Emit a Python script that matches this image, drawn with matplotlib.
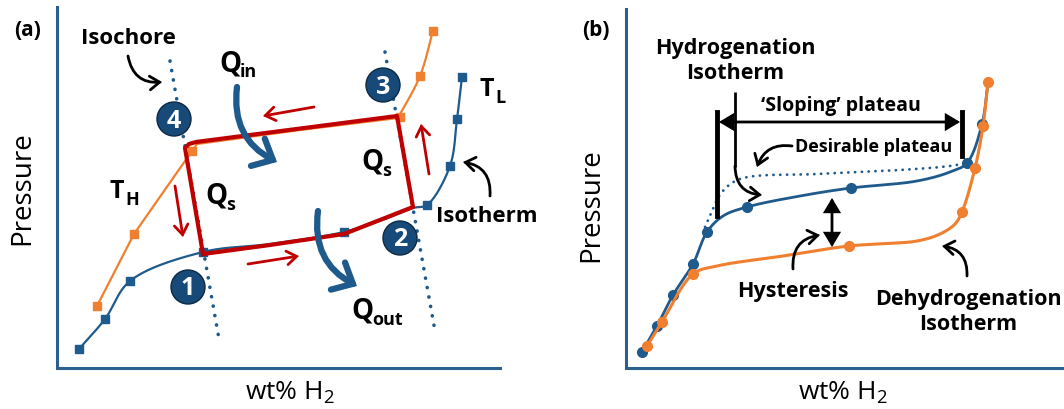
import numpy as np
import matplotlib
matplotlib.use('Agg')
import matplotlib.pyplot as plt
from matplotlib.patches import FancyArrowPatch, Circle

plt.rcParams['font.family'] = ['Open Sans', 'DejaVu Sans']
plt.rcParams['mathtext.fontset'] = 'custom'
plt.rcParams['mathtext.rm'] = 'Open Sans'

BLUE = '#1f5a8c'
ORANGE = '#f07f2f'
RED = '#c00000'
NAVY = '#174a78'

# ---- panel (a): schematic units (figure pixels) ----
tl_mx = [79, 105, 130, 203, 344, 427, 450, 457, 462]        # T_L isotherm markers
tl_my = [350, 320, 282, 253, 233, 206, 167, 120, 78]
tl_lx = [79, 105, 130, 203, 270, 344, 385, 413, 427, 450, 457, 462]
tl_ly = [350, 320, 282, 253, 245, 233, 220, 209, 206, 167, 120, 78]
th_mx = [97, 134, 192, 400, 420, 433]                       # T_H isotherm markers
th_my = [307, 235, 152, 118, 77, 32]
th_lo_x = [97, 134, 192, 197, 300, 398]                     # lower branch, hidden part along the cycle
th_lo_y = [307, 235, 152, 145, 131, 119]
th_hi_x = [398, 420, 433]
th_hi_y = [119, 77, 32]
cyc_x = [203, 185, 189, 196, 397, 413, 385, 344, 270, 203]  # cycle 1-2-3-4
cyc_y = [255, 149, 145, 143, 117, 208, 219, 235, 246, 255]
iso_l_x = [170, 219]
iso_l_y = [62, 340]
iso_r_x = [385, 435]
iso_r_y = [53, 332]
states = ['4', '1', '3', '2']
state_x = [174, 188, 383, 400]
state_y = [120, 288, 86, 239]

# ---- panel (b) ----
hyd_mx = [642, 657, 673, 693, 707, 747, 851, 967, 982]
hyd_my = [353, 327, 296, 265, 233, 208, 189, 164, 125]
hyd_lx = [642, 657, 673, 693, 707, 723, 747, 800, 851, 917, 950, 967, 982, 988]
hyd_ly = [353, 327, 296, 265, 233, 217, 208, 197, 189, 182, 173, 164, 125, 84]
deh_mx = [647, 662, 693, 849, 962, 975, 983, 988]
deh_my = [347, 323, 275, 247, 213, 169, 127, 83]
deh_lx = [647, 662, 693, 717, 783, 849, 917, 940, 955, 962, 975, 983, 988]
deh_ly = [347, 323, 275, 267, 257, 247, 242, 235, 225, 213, 169, 127, 83]
des_x = [705, 712, 722, 740, 817, 900, 950, 967]
des_y = [228, 212, 193, 180, 175, 171, 167, 164]


def smooth(x, y, n=30):
    # centripetal catmull-rom through the given points
    P = np.column_stack([x, y]).astype(float)
    P = np.vstack([2 * P[0] - P[1], P, 2 * P[-1] - P[-2]])
    out = []
    for i in range(1, len(P) - 2):
        p0, p1, p2, p3 = P[i - 1], P[i], P[i + 1], P[i + 2]
        t0 = 0.0
        t1 = t0 + np.linalg.norm(p1 - p0) ** 0.5 + 1e-9
        t2 = t1 + np.linalg.norm(p2 - p1) ** 0.5 + 1e-9
        t3 = t2 + np.linalg.norm(p3 - p2) ** 0.5 + 1e-9
        t = np.linspace(t1, t2, n)[:, None]
        a1 = (t1 - t) / (t1 - t0) * p0 + (t - t0) / (t1 - t0) * p1
        a2 = (t2 - t) / (t2 - t1) * p1 + (t - t1) / (t2 - t1) * p2
        a3 = (t3 - t) / (t3 - t2) * p2 + (t - t2) / (t3 - t2) * p3
        b1 = (t2 - t) / (t2 - t0) * a1 + (t - t0) / (t2 - t0) * a2
        b2 = (t3 - t) / (t3 - t1) * a2 + (t - t1) / (t3 - t1) * a3
        c = (t2 - t) / (t2 - t1) * b1 + (t - t1) / (t2 - t1) * b2
        out.append(c if i == 1 else c[1:])
    c = np.vstack(out)
    return c[:, 0], c[:, 1]


def arrow(p0, p1, rad=0.0, color='black', lw=2.0, style='->', hl=0.5, hw=0.35, ms=14, z=6):
    a = FancyArrowPatch(p0, p1, connectionstyle=f'arc3,rad={rad}',
                        arrowstyle=f'{style},head_length={hl},head_width={hw}',
                        color=color, lw=lw, mutation_scale=ms, shrinkA=0, shrinkB=0,
                        zorder=z, capstyle='round', joinstyle='miter')
    ax.add_patch(a)


def sublabel(x, y, main, sub, size=20, subsize=13, dx=0, dy=0):
    ax.text(x, y, main, fontsize=size, fontweight='bold', ha='center', va='center', zorder=8)
    ax.text(x + dx, y + dy, sub, fontsize=subsize, fontweight='bold', ha='left', va='center', zorder=8)


fig = plt.figure(figsize=(10.64, 4.10), dpi=100)
ax = fig.add_axes([0, 0, 1, 1])
ax.set_xlim(0, 1064)
ax.set_ylim(410, 0)
ax.axis('off')

# axes frames
for x0, x1, top in [(57, 500, 8), (626, 1064, 10)]:
    ax.plot([x0, x0, x1], [top, 369, 369], color='#2a5f8f', lw=2.2,
            solid_joinstyle='miter', zorder=2)

# ---------- (a) ----------
ax.plot(*smooth(tl_lx, tl_ly), color=BLUE, lw=1.6, zorder=3)
ax.plot(tl_mx, tl_my, 's', color=BLUE, ms=5.5, zorder=4)
ax.plot(th_lo_x, th_lo_y, color=ORANGE, lw=1.6, zorder=3)
ax.plot(*smooth(th_hi_x, th_hi_y), color=ORANGE, lw=1.6, zorder=3)
ax.plot(th_mx, th_my, 's', color=ORANGE, ms=5.5, zorder=4)
for xs, ys in [(iso_l_x, iso_l_y), (iso_r_x, iso_r_y)]:
    ax.plot(xs, ys, color=BLUE, lw=2.6, linestyle=(0, (0.05, 2.6)), dash_capstyle='round', zorder=3)
ax.plot(cyc_x, cyc_y, color=RED, lw=3.0, solid_joinstyle='round', zorder=5)

for s, x, y in zip(states, state_x, state_y):
    ax.add_patch(Circle((x, y), 17, facecolor=NAVY, edgecolor='#0d2a45', lw=1.0, zorder=7))
    ax.text(x, y + 1, s, color='white', fontsize=18, fontweight='bold', ha='center', va='center', zorder=8)

# thin red direction arrows
arrow((314, 108), (263, 117), color=RED, lw=2.0)
arrow((175, 187), (183, 238), color=RED, lw=2.0)
arrow((248, 265), (299, 257), color=RED, lw=2.0)
arrow((429, 175), (421, 125), color=RED, lw=2.0)
# heat arrows
arrow((237, 88), (277, 163), rad=0.35, color=BLUE, lw=4.5, hl=0.55, hw=0.5, ms=22)
arrow((318, 212), (357, 287), rad=0.35, color=BLUE, lw=4.5, hl=0.55, hw=0.5, ms=22)
# pointer arrows
arrow((128, 57), (162, 83), rad=0.45)
arrow((490, 197), (463, 163), rad=0.45)

ax.text(28, 31, '(a)', fontsize=15, fontweight='bold', ha='center', va='center')
ax.text(22, 188, 'Pressure', fontsize=20, rotation=90, ha='center', va='center')
ax.text(290, 393, 'wt% H$_\\mathrm{2}$', fontsize=19, ha='center', va='center')
ax.text(128, 38, 'Isochore', fontsize=16, fontweight='bold', ha='center', va='center')
ax.text(487, 217, 'Isotherm', fontsize=16, fontweight='bold', ha='center', va='center')
sublabel(230, 64, 'Q', 'in', dx=10, dy=8)
sublabel(216, 196, 'Q', 's', dx=10, dy=9)
sublabel(372, 162, 'Q', 's', dx=10, dy=9)
sublabel(362, 311, 'Q', 'out', dx=10, dy=9)
sublabel(117, 192, 'T', 'H', size=18, dx=8, dy=8)
sublabel(487, 89, 'T', 'L', size=18, dx=8, dy=9)

# ---------- (b) ----------
ax.plot(*smooth(des_x, des_y), color=BLUE, lw=2.0, linestyle=(0, (0.05, 2.4)),
        dash_capstyle='round', zorder=3)
ax.plot(*smooth(hyd_lx, hyd_ly), color=BLUE, lw=2.0, zorder=3)
ax.plot(hyd_mx, hyd_my, 'o', color=BLUE, ms=7, zorder=4)
ax.plot(*smooth(deh_lx, deh_ly), color=ORANGE, lw=2.2, zorder=4)
ax.plot(deh_mx, deh_my, 'o', color=ORANGE, ms=7, zorder=4)

ax.plot([717, 717], [113, 217], color='black', lw=3.5, zorder=5)
ax.plot([962, 962], [113, 157], color='black', lw=3.5, zorder=5)
arrow((719, 123), (960, 123), style='<|-|>', lw=2.0, hl=0.5, hw=0.3, ms=16)
arrow((832, 199), (832, 248), style='<|-|>', lw=2.0, hl=0.5, hw=0.3, ms=16)
ax.plot([735, 735], [93, 168], color='black', lw=2.0, zorder=6, solid_capstyle='butt')
arrow((735, 167), (762, 196), rad=0.45)
arrow((792, 147), (757, 168), rad=0.4)
arrow((793, 270), (820, 236), rad=-0.45)
arrow((967, 277), (942, 247), rad=0.45)

ax.text(596, 31, '(b)', fontsize=15, fontweight='bold', ha='center', va='center')
ax.text(591, 205, 'Pressure', fontsize=20, rotation=90, ha='center', va='center')
ax.text(843, 393, 'wt% H$_\\mathrm{2}$', fontsize=19, ha='center', va='center')
ax.text(735, 61, 'Hydrogenation\nIsotherm', fontsize=15.5, fontweight='bold', ha='center',
        va='center', linespacing=1.2)
ax.text(841, 106, '\u2018Sloping\u2019 plateau', fontsize=14, fontweight='bold', ha='center', va='center')
ax.text(874, 147, 'Desirable plateau', fontsize=13, fontweight='bold', ha='center', va='center')
ax.text(793, 292, 'Hysteresis', fontsize=15.5, fontweight='bold', ha='center', va='center')
ax.text(968, 312, 'Dehydrogenation\nIsotherm', fontsize=15.5, fontweight='bold', ha='center',
        va='center', linespacing=1.2)

fig.savefig('out.png', dpi=100)
